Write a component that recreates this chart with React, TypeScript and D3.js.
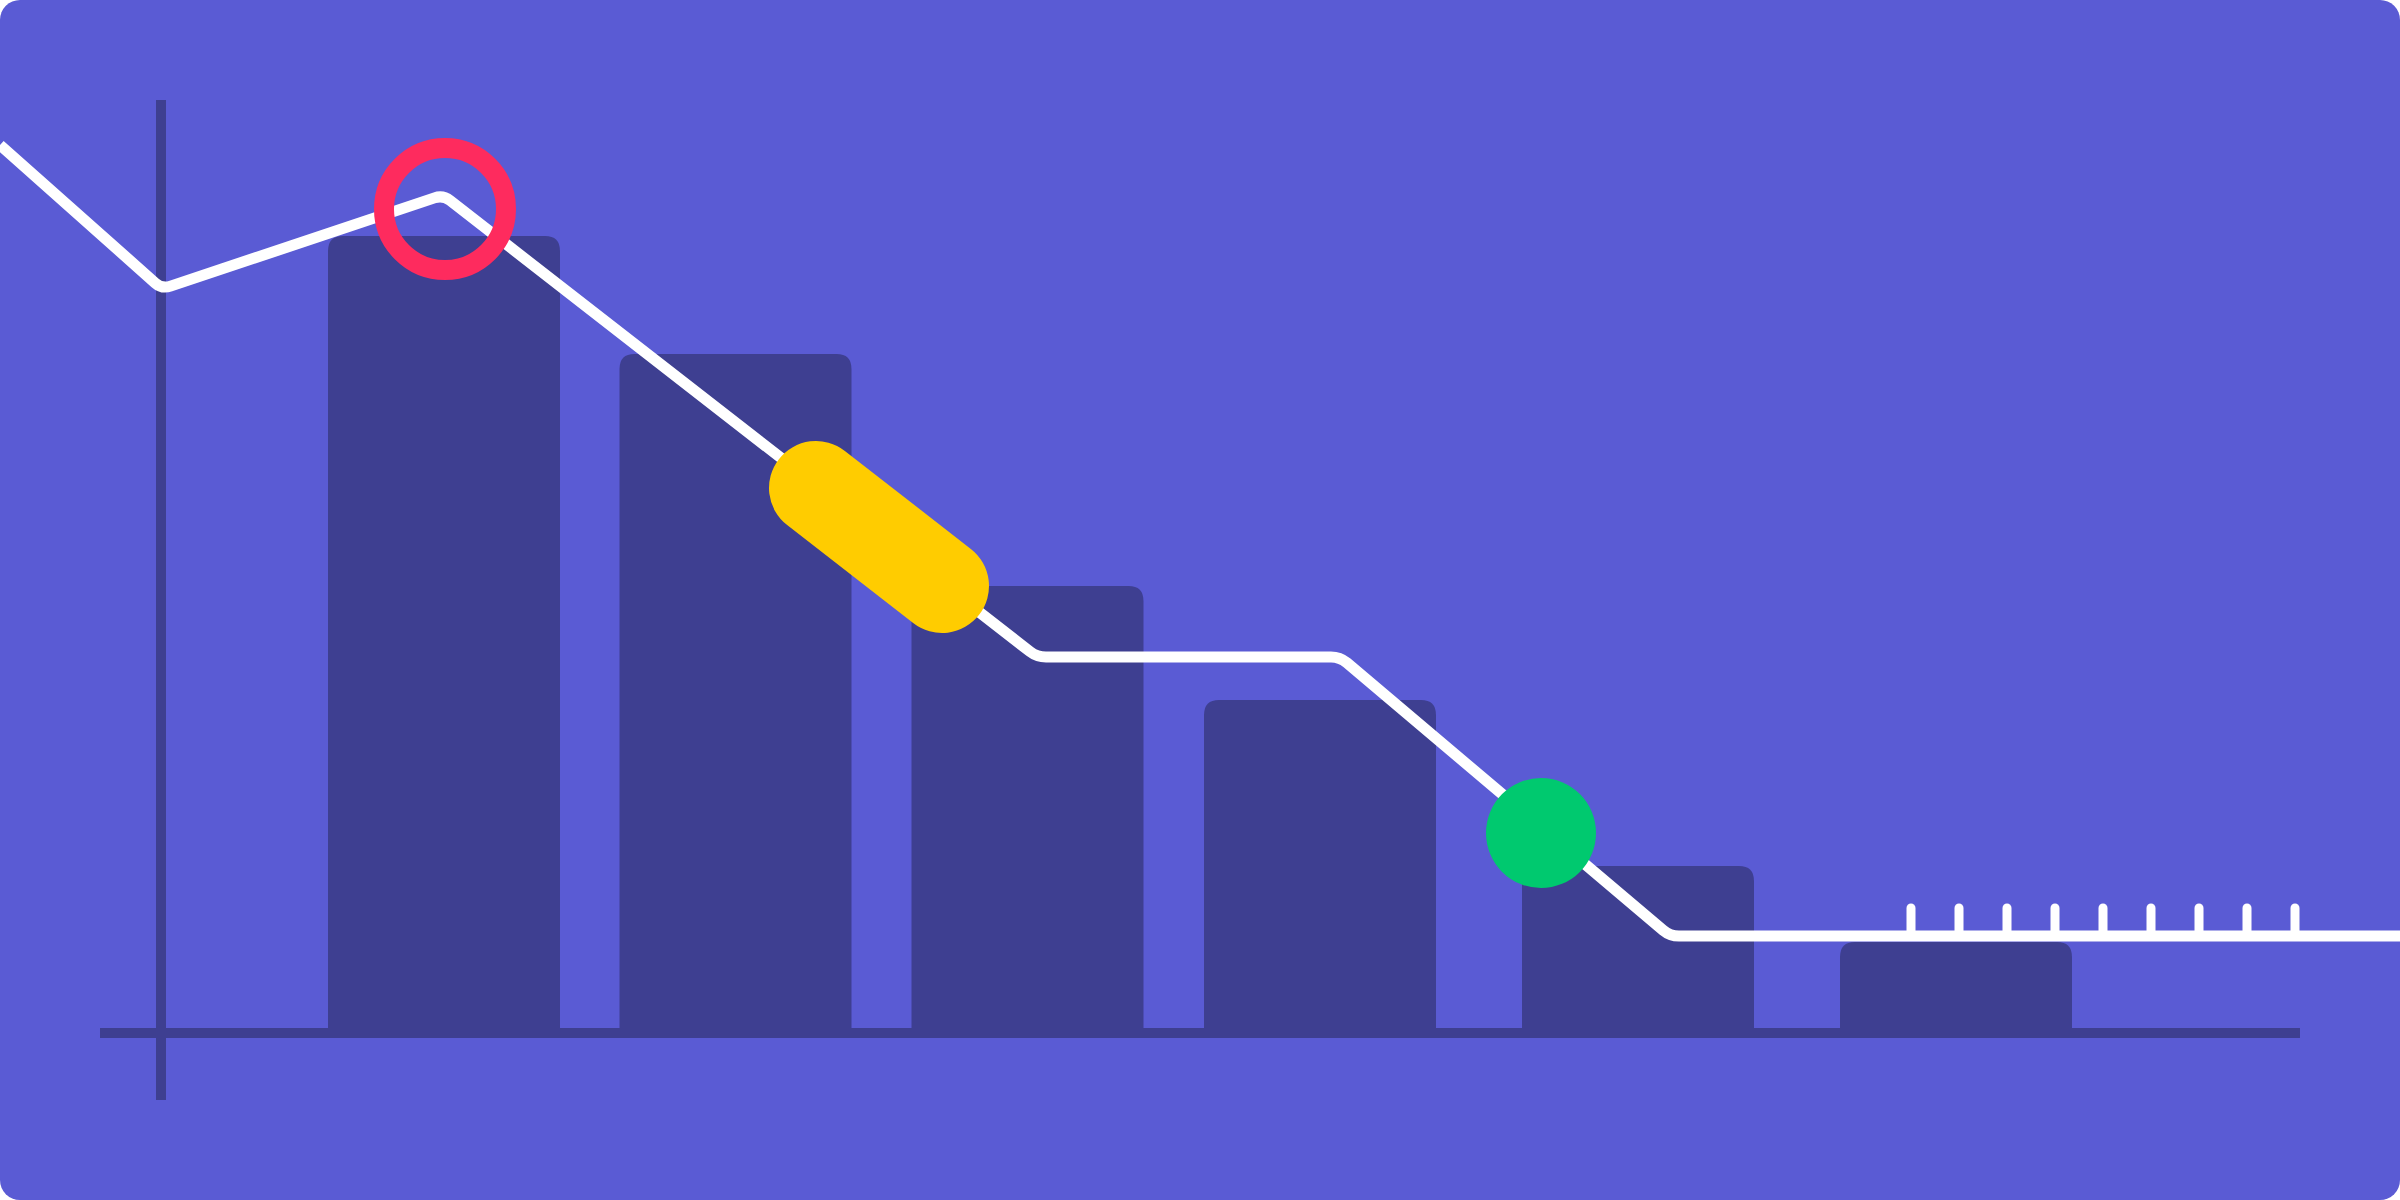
import React, { useEffect, useRef } from 'react';
import * as d3 from 'd3';

// Bars: centre position (x units) and height (y units)
const barCenters: number[] = [44.4, 73.55, 102.75, 132, 163.8, 195.6];
const barValues: number[] = [797, 679, 447, 333, 167, 91];
const barWidthUnits = 23.2;

// White polyline
const lineX: number[] = [0, 16.2, 44.3, 103.7, 134, 167, 240];
const lineY: number[] = [888, 744, 838, 376, 376, 97, 97];

// Small ticks standing on the lower flat part of the line
const tickX: number[] = [191.1, 195.9, 200.7, 205.5, 210.3, 215.1, 219.9, 224.7, 229.5];
const tickTop = 125;

// Highlights
const ringPoint = { x: 44.5, y: 824 };
const capsuleX: number[] = [81.6, 94.2];
const capsuleY: number[] = [545, 447];
const dotPoint = { x: 154.1, y: 200 };

type Pt = { x: number; y: number };

// polyline with softened corners
const roundedPath = (pts: [number, number][], radius: number): string => {
    const p = d3.path();
    p.moveTo(pts[0][0], pts[0][1]);
    for (let i = 1; i < pts.length - 1; i++) {
        const [ax, ay] = pts[i - 1];
        const [vx, vy] = pts[i];
        const [bx, by] = pts[i + 1];
        const la = Math.hypot(vx - ax, vy - ay);
        const lb = Math.hypot(bx - vx, by - vy);
        const ra = Math.min(radius, la / 2);
        const rb = Math.min(radius, lb / 2);
        p.lineTo(vx - (vx - ax) / la * ra, vy - (vy - ay) / la * ra);
        p.quadraticCurveTo(vx, vy, vx + (bx - vx) / lb * rb, vy + (by - vy) / lb * rb);
    }
    const last = pts[pts.length - 1];
    p.lineTo(last[0], last[1]);
    return p.toString();
};

const App: React.FC = () => {
    const svgRef = useRef<SVGSVGElement>(null);

    useEffect(() => {
        if (!svgRef.current) return;
        document.body.style.margin = '0';

        d3.select(svgRef.current).selectAll("*").remove();

        const width = 2400;
        const height = 1200;

        const svg = d3.select(svgRef.current)
            .attr("width", width)
            .attr("height", height);

        const xScale = d3.scaleLinear().domain([0, 240]).range([0, width]);
        const yScale = d3.scaleLinear().domain([0, 1000]).range([1033, 33]);

        const dark = "#3e3f91";

        // Background card
        svg.append("rect")
            .attr("width", width)
            .attr("height", height)
            .attr("rx", 20)
            .attr("fill", "#5a5bd4");

        // Bars with rounded tops
        const barW = xScale(barWidthUnits) - xScale(0);
        const r = 15;
        svg.selectAll(".bar")
            .data(barCenters.map((c, i) => ({ c, v: barValues[i] })))
            .enter().append("path")
            .attr("class", "bar")
            .attr("fill", dark)
            .attr("d", d => {
                const x0 = xScale(d.c) - barW / 2;
                const x1 = x0 + barW;
                const y0 = yScale(d.v);
                const y1 = yScale(0);
                return `M${x0},${y1}V${y0 + r}Q${x0},${y0} ${x0 + r},${y0}H${x1 - r}Q${x1},${y0} ${x1},${y0 + r}V${y1}Z`;
            });

        // Axes
        svg.append("line")
            .attr("x1", xScale(10)).attr("x2", xScale(230))
            .attr("y1", yScale(0)).attr("y2", yScale(0))
            .attr("stroke", dark).attr("stroke-width", 10);

        svg.append("line")
            .attr("x1", xScale(16.1)).attr("x2", xScale(16.1))
            .attr("y1", yScale(933)).attr("y2", yScale(-67))
            .attr("stroke", dark).attr("stroke-width", 10);

        // Ticks
        svg.selectAll(".tick-mark")
            .data(tickX)
            .enter().append("line")
            .attr("class", "tick-mark")
            .attr("x1", d => xScale(d)).attr("x2", d => xScale(d))
            .attr("y1", yScale(tickTop)).attr("y2", yScale(97))
            .attr("stroke", "white")
            .attr("stroke-width", 9)
            .attr("stroke-linecap", "round");

        // White line
        const linePts: [number, number][] = lineX.map((x, i) => [xScale(x), yScale(lineY[i])]);
        svg.append("path")
            .attr("fill", "none")
            .attr("stroke", "white")
            .attr("stroke-width", 11)
            .attr("stroke-linejoin", "round")
            .attr("d", roundedPath(linePts, 9));

        // Red ring
        svg.append("circle")
            .attr("cx", xScale(ringPoint.x))
            .attr("cy", yScale(ringPoint.y))
            .attr("r", 61)
            .attr("fill", "none")
            .attr("stroke", "#fe2b5e")
            .attr("stroke-width", 20);

        // Yellow capsule
        const capPts: Pt[] = capsuleX.map((x, i) => ({ x, y: capsuleY[i] }));
        const line = d3.line<Pt>()
            .x(d => xScale(d.x))
            .y(d => yScale(d.y));
        svg.append("path")
            .datum(capPts)
            .attr("fill", "none")
            .attr("stroke", "#ffcc00")
            .attr("stroke-width", 94)
            .attr("stroke-linecap", "round")
            .attr("d", line);

        // Green dot
        svg.append("circle")
            .attr("cx", xScale(dotPoint.x))
            .attr("cy", yScale(dotPoint.y))
            .attr("r", 55)
            .attr("fill", "#00c96f");
    }, []);

    return (
        <svg ref={svgRef} style={{ display: 'block', position: 'absolute', left: 0, top: 0 }}></svg>
    );
};

export default App;
